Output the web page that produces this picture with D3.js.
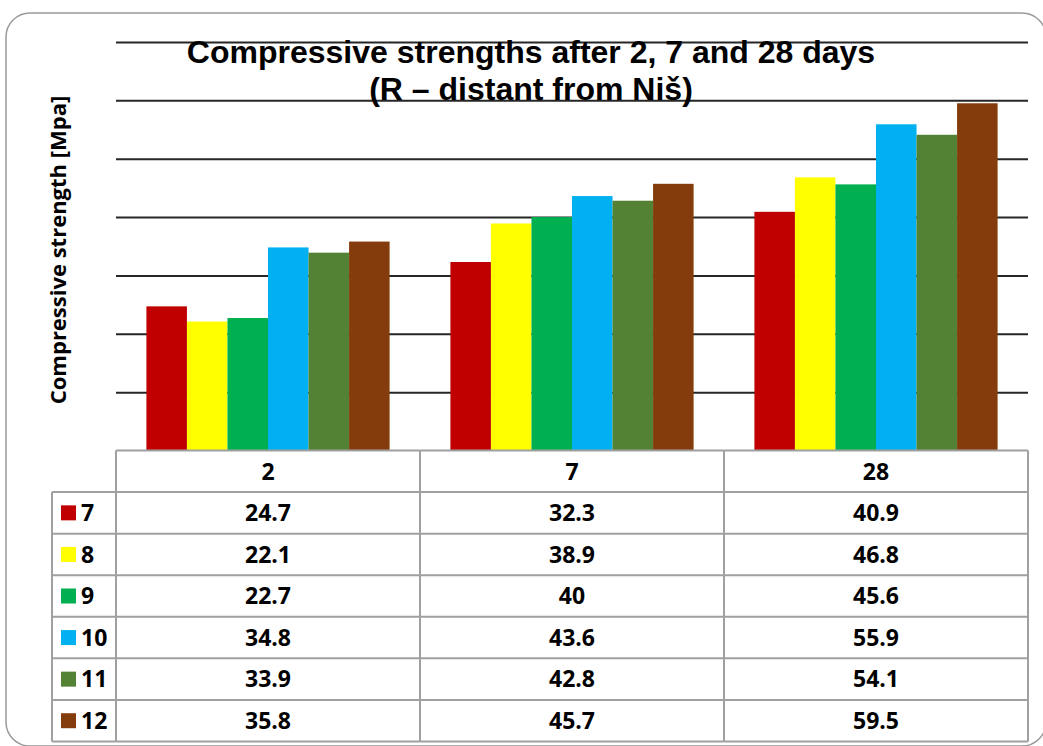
<!DOCTYPE html>
<html>
<head>
<meta charset="utf-8">
<script src="https://cdn.jsdelivr.net/npm/d3@7"></script>
<style>
  body { margin: 0; background: #fff; }
  svg { display: block; }
  .cell-text { font-family: "Open Sans", sans-serif; font-weight: bold; font-size: 23px; fill: #000; }
</style>
</head>
<body>
<div id="chart"></div>
<script>
// chart data
const days = ["2", "7", "28"];
const mixes = ["7", "8", "9", "10", "11", "12"];
const mixColors = ["#C00000", "#FFFF00", "#00B050", "#00B0F0", "#548235", "#843C0C"];
const day2 = [24.7, 22.1, 22.7, 34.8, 33.9, 35.8];
const day7 = [32.3, 38.9, 40, 43.6, 42.8, 45.7];
const day28 = [40.9, 46.8, 45.6, 55.9, 54.1, 59.5];
const gridTicks = [10, 20, 30, 40, 50, 60, 70];

const byDay = [day2, day7, day28];
const bars = [];
days.forEach((day, i) => {
  mixes.forEach((mix, j) => {
    bars.push({ day, mix, value: byDay[i][j] });
  });
});

const width = 1043, height = 746;
const plot = { left: 116, right: 1028, top: 42, bottom: 450.5 };
const tableBottom = 741.5;
const legendLeft = 52;

const svg = d3.select("#chart").append("svg")
  .attr("width", width)
  .attr("height", height);

// outer frame
svg.append("rect")
  .attr("x", 6).attr("y", 13)
  .attr("width", 1040).attr("height", 733)
  .attr("rx", 24)
  .attr("fill", "#fff")
  .attr("stroke", "#9a9a9a")
  .attr("stroke-width", 1.5);

const x0 = d3.scaleBand().domain(days).range([plot.left, plot.right]);
const x1 = d3.scaleBand().domain(mixes).range([0, x0.bandwidth()])
  .paddingInner(0).paddingOuter(0.75);
const y = d3.scaleLinear().domain([0, 70]).range([plot.bottom, plot.top]);
const color = d3.scaleOrdinal().domain(mixes).range(mixColors);

// gridlines
const grid = svg.append("g")
  .attr("transform", `translate(${plot.left},0)`)
  .call(d3.axisLeft(y).tickValues(gridTicks).tickSize(-(plot.right - plot.left)).tickFormat(""));
grid.select(".domain").remove();
grid.selectAll("line").attr("stroke", "#262626").attr("stroke-width", 2);

// title
const title = svg.append("text")
  .attr("text-anchor", "middle")
  .attr("font-family", "'Liberation Sans', Arial, sans-serif")
  .attr("font-weight", "bold")
  .attr("font-size", 32)
  .attr("fill", "#000");
title.append("tspan").attr("x", 531).attr("y", 63).text("Compressive strengths after 2, 7 and 28 days");
title.append("tspan").attr("x", 531).attr("y", 100).text("(R \u2013 distant from Ni\u0161)");

// y axis label
svg.append("text")
  .attr("transform", `translate(66,250) rotate(-90)`)
  .attr("text-anchor", "middle")
  .attr("font-family", "'Open Sans', sans-serif")
  .attr("font-weight", "bold")
  .attr("font-size", 22)
  .attr("fill", "#000")
  .text("Compressive strength [Mpa]");

// bars
svg.append("g")
  .selectAll("rect")
  .data(bars)
  .join("rect")
  .attr("x", d => x0(d.day) + x1(d.mix))
  .attr("y", d => y(d.value))
  .attr("width", x1.bandwidth())
  .attr("height", d => y(0) - y(d.value))
  .attr("fill", d => color(d.mix));

// data table
const rows = d3.scaleBand().domain(["header", ...mixes]).range([plot.bottom, tableBottom]);
const table = svg.append("g");
const lineColor = "#a0a0a0";

// horizontal lines
table.selectAll("line.h")
  .data(["header", ...mixes, "end"])
  .join("line")
  .attr("class", "h")
  .attr("x1", d => d === "header" ? plot.left : legendLeft)
  .attr("x2", plot.right)
  .attr("y1", d => d === "end" ? tableBottom : rows(d))
  .attr("y2", d => d === "end" ? tableBottom : rows(d))
  .attr("stroke", lineColor)
  .attr("stroke-width", 2);

// vertical lines
const vx = [plot.left, ...days.slice(1).map(d => x0(d)), plot.right];
table.selectAll("line.v")
  .data(vx)
  .join("line")
  .attr("class", "v")
  .attr("x1", d => d).attr("x2", d => d)
  .attr("y1", plot.bottom).attr("y2", tableBottom)
  .attr("stroke", lineColor)
  .attr("stroke-width", 2);
table.append("line")
  .attr("x1", legendLeft).attr("x2", legendLeft)
  .attr("y1", rows(mixes[0])).attr("y2", tableBottom)
  .attr("stroke", lineColor)
  .attr("stroke-width", 2);

// header labels
table.selectAll("text.head")
  .data(days)
  .join("text")
  .attr("class", "head cell-text")
  .attr("x", d => x0(d) + x0.bandwidth() / 2)
  .attr("y", rows("header") + rows.bandwidth() / 2)
  .attr("dy", "0.36em")
  .attr("text-anchor", "middle")
  .text(d => d);

// legend cells
const legend = table.selectAll("g.legend")
  .data(mixes)
  .join("g")
  .attr("class", "legend")
  .attr("transform", d => `translate(0,${rows(d) + rows.bandwidth() / 2})`);
legend.append("rect")
  .attr("x", 61).attr("y", -7.5)
  .attr("width", 15).attr("height", 15)
  .attr("fill", d => color(d));
legend.append("text")
  .attr("class", "cell-text")
  .attr("x", 81)
  .attr("dy", "0.36em")
  .text(d => d);

// value cells
table.selectAll("text.val")
  .data(bars)
  .join("text")
  .attr("class", "val cell-text")
  .attr("x", d => x0(d.day) + x0.bandwidth() / 2)
  .attr("y", d => rows(d.mix) + rows.bandwidth() / 2)
  .attr("dy", "0.36em")
  .attr("text-anchor", "middle")
  .text(d => d.value);
</script>
</body>
</html>
